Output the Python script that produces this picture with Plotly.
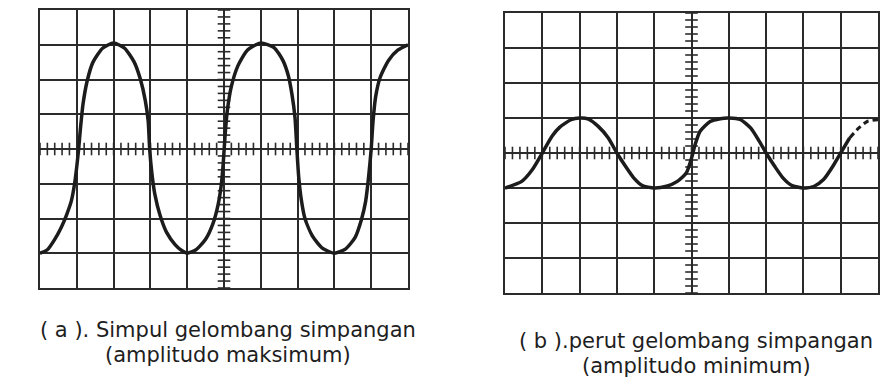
import numpy as np
import plotly.graph_objects as go

# Trace (a): displacement node wave, amplitude ~3 divisions (x, y in screen divisions)
wave_a_x = [-5.00, -4.80, -4.60, -4.42, -4.28, -4.15, -4.06, -4.00, -3.95, -3.90, -3.83, -3.72,
            -3.56, -3.30, -3.00, -2.70, -2.44, -2.27, -2.14, -2.06, -2.02, -1.96, -1.88, -1.74,
            -1.56, -1.33, -1.14, -1.00, -0.76, -0.50, -0.30, -0.16, -0.07, -0.02, 0.03, 0.09,
            0.20, 0.38, 0.64, 1.00, 1.36, 1.60, 1.75, 1.85, 1.93, 1.98, 2.03, 2.10,
            2.20, 2.40, 2.67, 3.00, 3.30, 3.56, 3.73, 3.85, 3.93, 4.00, 4.05, 4.12,
            4.24, 4.47, 4.73, 5.00]
wave_a_y = [-3.00, -2.90, -2.60, -2.25, -1.90, -1.50, -1.00, -0.50, 0.00, 0.60, 1.30, 1.95,
            2.50, 2.90, 3.05, 2.90, 2.50, 2.00, 1.40, 0.80, 0.00, -0.70, -1.30, -1.90,
            -2.40, -2.75, -2.93, -3.00, -2.90, -2.60, -2.15, -1.60, -1.00, -0.40, 0.40, 1.10,
            1.80, 2.40, 2.85, 3.05, 2.92, 2.55, 2.10, 1.55, 0.90, 0.00, -0.80, -1.45,
            -2.00, -2.50, -2.85, -3.00, -2.88, -2.55, -2.05, -1.50, -0.80, 0.00, 0.80, 1.50,
            2.05, 2.55, 2.85, 3.00]

# Trace (b): displacement antinode wave, amplitude ~1 division
wave_b_x = [-5.00, -4.55, -4.27, -4.00, -3.74, -3.53, -3.23, -3.00, -2.76, -2.50, -2.23, -2.00,
            -1.77, -1.55, -1.32, -1.00, -0.67, -0.38, -0.14, 0.00, 0.10, 0.23, 0.50, 0.77,
            1.00, 1.32, 1.59, 1.82, 2.00, 2.23, 2.45, 2.68, 3.00, 3.29, 3.54, 3.79,
            4.00, 4.24, 4.48, 4.71, 5.00]
wave_b_y = [-1.00, -0.81, -0.48, 0.00, 0.48, 0.74, 0.95, 1.00, 0.97, 0.76, 0.43, 0.00,
            -0.38, -0.71, -0.93, -1.00, -0.95, -0.81, -0.57, -0.15, 0.25, 0.62, 0.90, 0.98,
            1.00, 0.95, 0.71, 0.33, 0.00, -0.38, -0.71, -0.92, -1.00, -0.95, -0.76, -0.38,
            0.00, 0.43, 0.71, 0.90, 0.95]
wave_b_dash_from = 4.24  # faint end of trace (b) drawn dashed

caption_a = ["( a ). Simpul gelombang simpangan", "(amplitudo maksimum)"]
caption_b = ["( b ).perut gelombang simpangan", "(amplitudo minimum)"]

INK = "#1c1c1c"
GRID = "#2b2b2b"

fig = go.Figure()

# Graticule minor ticks along the centre cross (every 0.2 division)
hx = np.round(np.arange(-5, 5.0001, 0.2), 3)
vy = np.round(np.arange(-4, 4.0001, 0.2), 3)
for xa, ya in (("x", "y"), ("x2", "y2")):
    fig.add_trace(go.Scatter(x=hx, y=np.zeros_like(hx), mode="markers", xaxis=xa, yaxis=ya,
                             marker=dict(symbol="line-ns", size=9, line=dict(width=1.6, color=GRID)),
                             hoverinfo="skip", showlegend=False))
    fig.add_trace(go.Scatter(x=np.zeros_like(vy), y=vy, mode="markers", xaxis=xa, yaxis=ya,
                             marker=dict(symbol="line-ew", size=9, line=dict(width=1.6, color=GRID)),
                             hoverinfo="skip", showlegend=False))

fig.add_trace(go.Scatter(x=wave_a_x, y=wave_a_y, mode="lines", xaxis="x", yaxis="y",
                         line=dict(color=INK, width=3.5, shape="spline", smoothing=0.6),
                         showlegend=False))

bx = np.array(wave_b_x)
by = np.array(wave_b_y)
solid = bx <= wave_b_dash_from
dashed = bx >= wave_b_dash_from
fig.add_trace(go.Scatter(x=bx[solid], y=by[solid], mode="lines", xaxis="x2", yaxis="y2",
                         line=dict(color=INK, width=3.5, shape="spline", smoothing=0.6),
                         showlegend=False))
fig.add_trace(go.Scatter(x=bx[dashed], y=by[dashed], mode="lines", xaxis="x2", yaxis="y2",
                         line=dict(color=INK, width=3, shape="spline", smoothing=0.6, dash="6px,4px"),
                         showlegend=False))

W, H = 885, 385


def axis(domain, rng, dtick, anchor):
    return dict(domain=domain, range=rng, dtick=dtick, tick0=0, anchor=anchor,
                showgrid=True, gridcolor=GRID, gridwidth=2,
                zeroline=False, showline=True, linecolor=GRID, linewidth=2, mirror=True,
                showticklabels=False, ticks="", fixedrange=True)


fig.update_layout(
    width=W, height=H,
    margin=dict(l=0, r=0, t=0, b=0),
    paper_bgcolor="white", plot_bgcolor="white",
    xaxis=axis([40 / W, 408 / W], [-5, 5], 1, "y"),
    yaxis=axis([1 - 288 / H, 1 - 10 / H], [-4, 4], 1, "x"),
    xaxis2=axis([505 / W, 878 / W], [-5, 5], 1, "y2"),
    yaxis2=axis([1 - 293 / H, 1 - 13 / H], [-4, 4], 1, "x2"),
)

font = dict(family="DejaVu Sans", size=21, color="#1e1e1e")
for (cx, lines, ys) in ((228, caption_a, (330, 355)), (696, caption_b, (341, 366))):
    for txt, yy in zip(lines, ys):
        fig.add_annotation(text=txt, x=cx / W, y=1 - yy / H, xref="paper", yref="paper",
                           xanchor="center", yanchor="middle", showarrow=False, font=font)

fig.write_html("out.html")
